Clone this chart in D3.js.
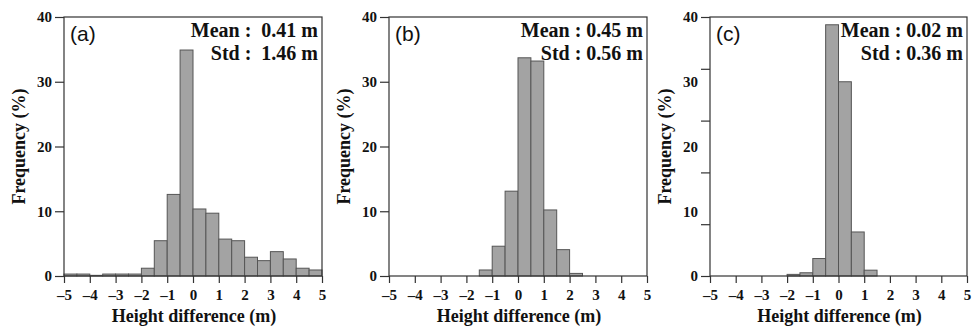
<!DOCTYPE html>
<html>
<head>
<meta charset="utf-8">
<script src="https://cdn.jsdelivr.net/npm/d3@7"></script>
<style>
	body { margin: 0; background: #fff; }
	svg { display: block; }
	.serif { font-family: "Liberation Serif", "Times New Roman", "DejaVu Serif", serif; font-weight: bold; fill: #111; }
	.sans { font-family: "Liberation Sans", Arial, sans-serif; fill: #111; }
</style>
</head>
<body>
<main></main>
<script>
// DATA
// bin edges (m), bin width 0.5
const binStarts = [-5, -4.5, -4, -3.5, -3, -2.5, -2, -1.5, -1, -0.5, 0, 0.5, 1, 1.5, 2, 2.5, 3, 3.5, 4, 4.5];
// frequency (%) for each panel
const freqA = [0.3, 0.3, 0.1, 0.3, 0.3, 0.3, 1.2, 5.45, 12.6, 34.9, 10.35, 9.7, 5.7, 5.45, 2.9, 2.37, 3.76, 2.63, 1.2, 0.93];
const freqB = [0, 0, 0, 0, 0, 0, 0, 0.93, 4.6, 13.1, 33.7, 33.2, 10.2, 4.07, 0.4, 0, 0, 0, 0, 0];
const freqC = [0, 0, 0, 0, 0, 0, 0.25, 0.5, 2.7, 38.8, 30.0, 6.8, 0.9, 0, 0, 0, 0, 0, 0, 0];
// panel labels and stats
const panelLabels = ["(a)", "(b)", "(c)"];
const meanText = ["Mean :  0.41 m", "Mean : 0.45 m", "Mean : 0.02 m"];
const stdText = ["Std :  1.46 m", "Std : 0.56 m", "Std : 0.36 m"];
// tick values
const xTicks = [-5, -4, -3, -2, -1, 0, 1, 2, 3, 4, 5];
const yLabelTicks = [0, 10, 20, 30, 40];
const yMarkTicksC = [0, 8, 16, 24, 32, 40];

// dimension
const w = 972, h = 328;
const plotTop = 17, plotBottom = 276;
const panels = [
	{ left: 64, right: 322, data: freqA },
	{ left: 389, right: 647, data: freqB },
	{ left: 710, right: 967, data: freqC }
];

const svg = d3.select("main").append("svg").attr("width", w).attr("height", h);
const minus = v => v < 0 ? "\u2013" + Math.abs(v) : String(v);

panels.forEach((p, i) => {
	const x = d3.scaleLinear().domain([-5, 5]).range([p.left, p.right]);
	const y = d3.scaleLinear().domain([0, 40]).range([plotBottom, plotTop]);
	const g = svg.append("g");

	// bars
	g.selectAll("rect").data(binStarts.map((b, k) => [b, p.data[k]])).enter()
		.append("rect")
		.attr("x", d => x(d[0]))
		.attr("width", d => x(d[0] + 0.5) - x(d[0]))
		.attr("y", d => y(d[1]))
		.attr("height", d => y(0) - y(d[1]))
		.attr("fill", "#a3a3a3")
		.attr("stroke", "#555")
		.attr("stroke-width", 1);

	// frame
	g.append("rect")
		.attr("x", p.left).attr("y", plotTop)
		.attr("width", p.right - p.left).attr("height", plotBottom - plotTop)
		.attr("fill", "none").attr("stroke", "#333").attr("stroke-width", 1.2);

	// x axis
	const xAxis = d3.axisBottom(x).tickValues(xTicks).tickSize(7).tickPadding(6).tickFormat(minus);
	const gx = g.append("g").attr("transform", "translate(0," + plotBottom + ")").call(xAxis);
	gx.attr("font-family", null).attr("font-size", null);
	gx.select(".domain").remove();
	gx.selectAll("line").attr("stroke", "#333").attr("stroke-width", 1.2);
	gx.selectAll("text").attr("class", "serif").style("font-size", "15px").attr("fill", null);

	// y axis: panel (c) has marks every 8% but labels every 10%
	const marks = i === 2 ? yMarkTicksC : yLabelTicks;
	const gyMarks = g.append("g").attr("transform", "translate(" + p.left + ",0)")
		.call(d3.axisLeft(y).tickValues(marks).tickSize(9).tickFormat(""));
	gyMarks.select(".domain").remove();
	gyMarks.selectAll("line").attr("stroke", "#333").attr("stroke-width", 1.2);
	const gyLabels = g.append("g").attr("transform", "translate(" + (p.left - 10) + ",0)")
		.call(d3.axisLeft(y).tickValues(yLabelTicks).tickSize(0).tickPadding(2));
	gyLabels.attr("font-family", null).attr("font-size", null);
	gyLabels.select(".domain").remove();
	gyLabels.selectAll("text").attr("class", "serif").style("font-size", "15px").attr("fill", null);

	// axis titles
	g.append("text").attr("class", "serif")
		.attr("x", (p.left + p.right) / 2 + 1).attr("y", 322)
		.attr("text-anchor", "middle")
		.style("font-size", "18px")
		.text("Height difference (m)");
	g.append("text").attr("class", "serif")
		.attr("transform", "translate(" + (p.left - 39) + "," + ((plotTop + plotBottom) / 2) + ") rotate(-90)")
		.attr("text-anchor", "middle")
		.style("font-size", "18px")
		.text("Frequency (%)");

	// panel label
	g.append("text").attr("class", "sans")
		.attr("x", p.left + 6).attr("y", 41)
		.style("font-size", "21px")
		.text(panelLabels[i]);

	// stats
	[meanText[i], stdText[i]].forEach((t, k) => {
		g.append("text").attr("class", "serif")
			.attr("x", p.right - 4).attr("y", 37 + k * 23)
			.attr("text-anchor", "end")
			.style("white-space", "pre")
			.style("font-size", "20px")
			.text(t);
	});
});
</script>
</body>
</html>
